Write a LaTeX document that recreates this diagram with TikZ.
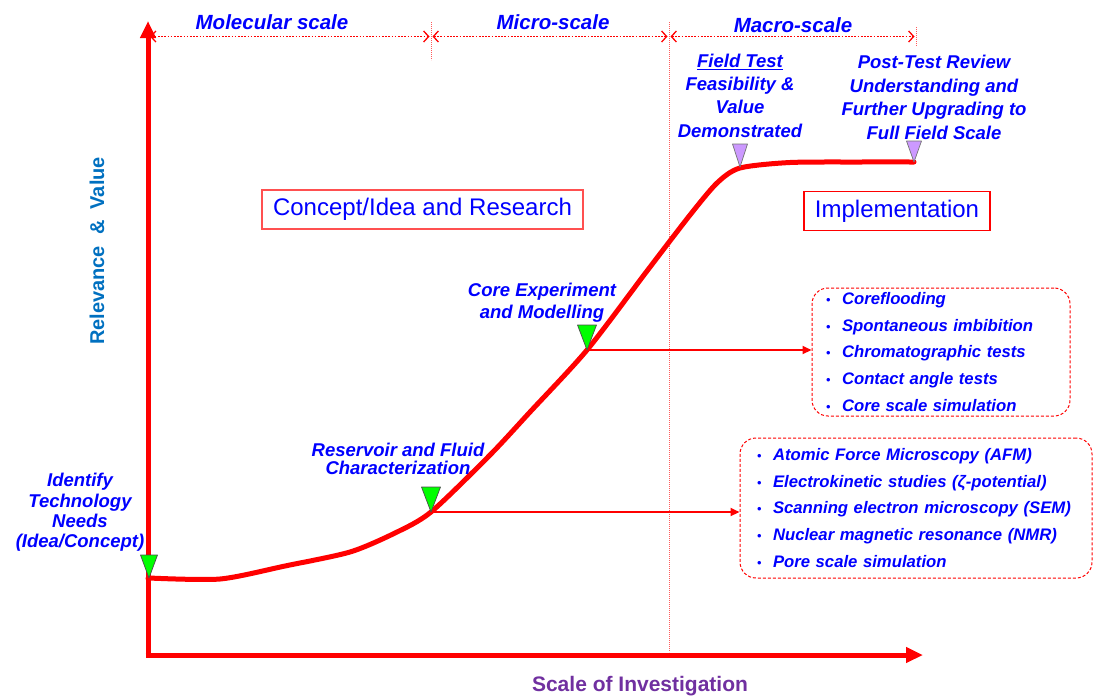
\documentclass[tikz,border=0pt]{standalone}
\usepackage{fontspec}
\setmainfont{Liberation Sans}
\usetikzlibrary{arrows.meta}
\definecolor{myred}{RGB}{255,0,0}
\definecolor{myblue}{RGB}{0,0,255}
\definecolor{relblue}{RGB}{0,112,192}
\definecolor{scalepurple}{RGB}{112,48,160}
\definecolor{mkgreen}{RGB}{0,255,0}
\definecolor{mkpurple}{RGB}{204,153,255}
\definecolor{boxred}{RGB}{255,80,80}
\definecolor{guidered}{RGB}{255,90,90}
\newcommand{\itm}[1]{\mbox{\makebox[16pt][l]{\normalfont\fontsize{13}{13}\selectfont\textbullet}#1}}
\begin{document}
\begin{tikzpicture}[x=1pt,y=-1pt,
  lbl/.style={text=myblue,font=\fontsize{18.5}{#1}\selectfont\bfseries\itshape,align=center,inner sep=0pt},
  lbl/.default=21,
  scalelbl/.style={text=myblue,font=\fontsize{20.5}{24}\selectfont\bfseries\itshape,inner sep=0pt},
  phasebox/.style={draw=#1,line width=1.3pt,text=myblue,font=\fontsize{24}{28}\selectfont,inner xsep=11pt,minimum height=39pt},
  listbox/.style={draw=myred,dashed,dash pattern=on 3pt off 2pt,rounded corners=16pt,line width=1pt,text=myblue,font=\fontsize{16.7}{26.6}\selectfont\bfseries\itshape,align=left},
  axis/.style={draw=myred,line width=5pt,-{Triangle[length=17pt,width=15pt]}},
  curve/.style={draw=myred,line width=5pt,line join=round,line cap=round},
  dimline/.style={draw=myred,line width=1.7pt,dash pattern=on 1.7pt off 1.5pt,{Straight Barb[length=5pt,width=11pt,line width=1.3pt]}-{Straight Barb[length=5pt,width=11pt,line width=1.3pt]}},
  guide/.style={draw=guidered,line width=0.8pt,dash pattern=on 1.2pt off 0.8pt},
  link/.style={draw=myred,line width=2pt,-{Triangle[length=9pt,width=8pt]}},
  greenmk/.style={fill=mkgreen,draw=black!70,line width=0.7pt,line join=round},
  purplemk/.style={fill=mkpurple,draw=black!55,line width=0.7pt,line join=round}
]
\useasboundingbox (0,0) rectangle (1094,697);

% axes
\coordinate (origin) at (148,655);
\coordinate (ytop) at (148,21);
\coordinate (xend) at (923,655);
\draw[axis] (148,657.5) -- (ytop);
\draw[axis] (145.5,655) -- (xend);

% guide lines
\coordinate (g1a) at (431,22); \coordinate (g1b) at (431,60);
\coordinate (g2a) at (669,22); \coordinate (g2b) at (669,652);
\coordinate (g3a) at (916,27); \coordinate (g3b) at (916,46);
\draw[guide] (g1a) -- (g1b);
\draw[guide] (g2a) -- (g2b);
\draw[guide] (g3a) -- (g3b);

% scale dimension arrows
\coordinate (d0) at (150,36.5);
\coordinate (d1a) at (429.5,36.5);
\coordinate (d1b) at (432.5,36.5);
\coordinate (d2a) at (667.5,36.5);
\coordinate (d2b) at (670.5,36.5);
\coordinate (d3) at (914.5,36.5);
\draw[dimline] (d0) -- (d1a);
\draw[dimline] (d1b) -- (d2a);
\draw[dimline] (d2b) -- (d3);
\node[scalelbl] (mol) at (272,22) {Molecular scale};
\node[scalelbl] (mic) at (553,22) {Micro-scale};
\node[scalelbl] (mac) at (793,25) {Macro-scale};

% curve points
\coordinate (p1) at (149,578);
\coordinate (p2) at (431,512);
\coordinate (p3) at (587,350);
\coordinate (p4) at (740,167);
\coordinate (p5) at (914,162);
\draw[curve] plot[smooth,tension=0.45] coordinates {(149,578) (220,579) (285,566) (350,552) (395,533) (431,512) (490,455) (530,412) (587,350) (647,271) (690,215) (717,183) (740,168) (790,162.5) (860,162) (914,162)};
\draw[curve] (148,578) -- (p1);

% connectors to lists
\node[listbox,text width=230pt,inner xsep=14pt,minimum height=128pt] (list1) at (941,352) {%
\itm{Coreflooding}\\
\itm{Spontaneous imbibition}\\
\itm{Chromatographic tests}\\
\itm{Contact angle tests}\\
\itm{Core scale simulation}};
\node[listbox,text width=318pt,inner xsep=17pt,minimum height=140pt] (list2) at (916,508) {%
\itm{Atomic Force Microscopy (AFM)}\\
\itm{Electrokinetic studies (ζ-potential)}\\
\itm{Scanning electron microscopy (SEM)}\\
\itm{Nuclear magnetic resonance (NMR)}\\
\itm{Pore scale simulation}};
\draw[link] (p3) -- (p3 -| list1.west);
\draw[link] (p2) -- (p2 -| list2.west);

% markers
\filldraw[greenmk] (p1) -- ++(-8.5,-23) -- ++(17,0) -- cycle;
\filldraw[greenmk] (p2) -- ++(-9.5,-25) -- ++(19,0) -- cycle;
\filldraw[greenmk] (p3) -- ++(-9.5,-25) -- ++(19,0) -- cycle;
\filldraw[purplemk] (p4) -- ++(-7.5,-23) -- ++(15,0) -- cycle;
\filldraw[purplemk] (p5) -- ++(-7.5,-21) -- ++(15,0) -- cycle;

% phase boxes
\node[phasebox=boxred] (concept) at (422.5,209.5) {Concept/Idea and Research};
\node[phasebox=myred] (impl) at (897,211) {Implementation};

% labels
\node[lbl=20.3] (ident) at (80,512.5) {Identify\\Technology\\Needs\\(Idea/Concept)};
\node[lbl=18.5] (resv) at (398,459) {Reservoir and Fluid\\Characterization};
\node[lbl=21.5] (core) at (542,302.5) {Core Experiment\\and Modelling};
\node[lbl=23.3] (field) at (740,95.5) {\underline{Field Test}\\Feasibility \&\\Value\\Demonstrated};
\node[lbl=23.7] (post) at (934,97.5) {Post-Test Review\\Understanding and\\Further Upgrading to\\Full Field Scale};

% axis titles
\node[text=relblue,font=\fontsize{20}{24}\selectfont\bfseries,rotate=90,inner sep=0pt] (yt) at (97,251) {Relevance \ \& \ Value};
\node[text=scalepurple,font=\fontsize{21}{24}\selectfont\bfseries,inner sep=0pt] (xt) at (640,686) {Scale of Investigation};
\end{tikzpicture}
\end{document}
